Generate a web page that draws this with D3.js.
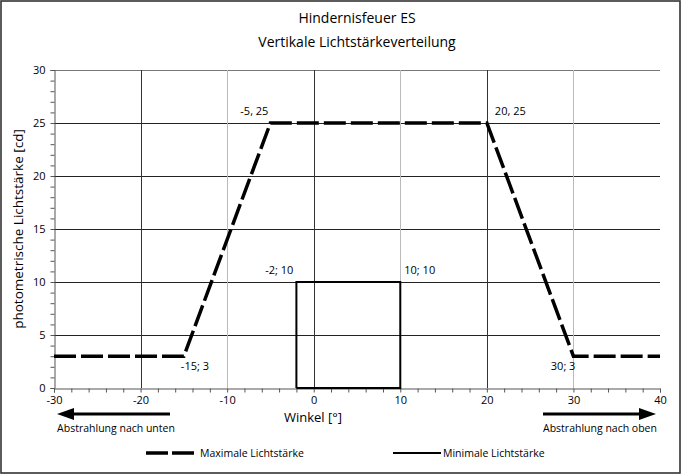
<!DOCTYPE html>
<html><head><meta charset="utf-8">
<script src="https://cdn.jsdelivr.net/npm/d3@7"></script>
<style>
body{margin:0;background:#fff;}
text{font-family:"Open Sans","Noto Sans",sans-serif;fill:#000;}
</style></head>
<body><svg id="c" width="681" height="476"></svg>
<script>
const maxX = [-30, -15, -5, 20, 30, 40];
const maxY = [3, 3, 25, 25, 3, 3];
const minX = [-2, -2, 10, 10, -2];
const minY = [0, 10, 10, 0, 0];
const xTicks = [-30, -20, -10, 0, 10, 20, 30, 40];
const yTicks = [0, 5, 10, 15, 20, 25, 30];
const darkGrid = [-20, 0, 20];
const lightGrid = [-10, 10, 30];
const annotations = [
  {x: -5, y: 25, t: "-5, 25", dx: -2, dy: -8, a: "end"},
  {x: 20, y: 25, t: "20, 25", dx: 8, dy: -8, a: "start"},
  {x: -2, y: 10, t: "-2; 10", dx: -3, dy: -8, a: "end"},
  {x: 10, y: 10, t: "10; 10", dx: 4, dy: -8, a: "start"},
  {x: -15, y: 3, t: "-15; 3", dx: -3, dy: 14, a: "start"},
  {x: 30, y: 3, t: "30; 3", dx: 2, dy: 14, a: "end"}
];

const svg = d3.select("#c");
const x = d3.scaleLinear().domain([-30, 40]).range([54, 660]);
const y = d3.scaleLinear().domain([0, 30]).range([388, 70]);

svg.append("rect").attr("x",1).attr("y",1).attr("width",679).attr("height",472)
  .attr("fill","#fff").attr("stroke","#333").attr("stroke-width",1.6);

// grid
svg.append("g").selectAll("line").data(yTicks.filter(d=>d>0)).join("line")
  .attr("x1",54).attr("x2",660).attr("y1",d=>y(d)+0.5).attr("y2",d=>y(d)+0.5)
  .attr("stroke",d=>d===30?"#777":"#222").attr("stroke-width",1);
svg.append("g").selectAll("line").data(lightGrid).join("line")
  .attr("x1",d=>Math.round(x(d))+0.5).attr("x2",d=>Math.round(x(d))+0.5).attr("y1",70).attr("y2",388)
  .attr("stroke","#bbb").attr("stroke-width",1);
svg.append("g").selectAll("line").data(darkGrid).join("line")
  .attr("x1",d=>Math.round(x(d))+0.5).attr("x2",d=>Math.round(x(d))+0.5).attr("y1",70).attr("y2",388)
  .attr("stroke","#333").attr("stroke-width",1);

// axes
const xAxis = d3.axisBottom(x).tickValues(d3.range(-30, 41, 2)).tickSize(4)
  .tickFormat(d => xTicks.includes(d) ? d : "");
const gx = svg.append("g").attr("transform","translate(0,388.5)").call(xAxis);
gx.select(".domain").attr("stroke","#555");
gx.selectAll(".tick line").attr("stroke","#555");
gx.selectAll(".tick text").attr("y",8).attr("dy","0.71em").style("font-size","11px").attr("fill","#222");

const yAxis = d3.axisLeft(y).tickValues(d3.range(0, 31, 1)).tickSize(4)
  .tickFormat(d => yTicks.includes(d) ? d : "");
const gy = svg.append("g").attr("transform","translate(54.5,0)").call(yAxis);
gy.select(".domain").attr("stroke","#555");
gy.selectAll(".tick line").attr("stroke","#555");
gy.selectAll(".tick text").attr("x",-9).style("font-size","11px").attr("fill","#222");

// series
const line = d3.line().x(d=>x(d[0])).y(d=>y(d[1]));
svg.append("path").datum(minX.map((v,i)=>[v,minY[i]])).attr("d",line)
  .attr("fill","none").attr("stroke","#000").attr("stroke-width",2);
svg.append("path").datum(maxX.map((v,i)=>[v,maxY[i]])).attr("d",line)
  .attr("fill","none").attr("stroke","#000").attr("stroke-width",3.5)
  .attr("stroke-dasharray","22,5");

// annotations
svg.append("g").selectAll("text").data(annotations).join("text")
  .attr("x",d=>x(d.x)+d.dx).attr("y",d=>y(d.y)+d.dy).attr("text-anchor",d=>d.a)
  .style("font-size","11px").text(d=>d.t);

// titles
svg.append("text").attr("x",357).attr("y",23).attr("text-anchor","middle").style("font-size","14px").text("Hindernisfeuer ES");
svg.append("text").attr("x",357).attr("y",47).attr("text-anchor","middle").style("font-size","14px").text("Vertikale Lichtstärkeverteilung");
svg.append("text").attr("transform","translate(23,229) rotate(-90)").attr("text-anchor","middle").style("font-size","13.5px").text("photometrische Lichtstärke [cd]");
svg.append("text").attr("x",313).attr("y",422).attr("text-anchor","middle").style("font-size","13px").text("Winkel [°]");

// arrows
function arrow(x0, x1, yy) {
  const dir = Math.sign(x1 - x0);
  svg.append("line").attr("x1",x0).attr("x2",x1 - dir*14).attr("y1",yy).attr("y2",yy)
    .attr("stroke","#000").attr("stroke-width",3);
  svg.append("path").attr("d",`M${x1},${yy}L${x1-dir*17},${yy-6}L${x1-dir*17},${yy+6}Z`).attr("fill","#000");
}
arrow(170, 57, 414);
arrow(543, 656, 414);
svg.append("text").attr("x",116).attr("y",432).attr("text-anchor","middle").style("font-size","10.5px").text("Abstrahlung nach unten");
svg.append("text").attr("x",600).attr("y",432).attr("text-anchor","middle").style("font-size","10.5px").text("Abstrahlung nach oben");

// legend
svg.append("line").attr("x1",146).attr("x2",194).attr("y1",453).attr("y2",453)
  .attr("stroke","#000").attr("stroke-width",3.5).attr("stroke-dasharray","22,4");
svg.append("text").attr("x",200).attr("y",457).style("font-size","10.5px").text("Maximale Lichtstärke");
svg.append("line").attr("x1",393).attr("x2",441).attr("y1",453).attr("y2",453)
  .attr("stroke","#000").attr("stroke-width",2);
svg.append("text").attr("x",443).attr("y",457).style("font-size","10.5px").text("Minimale Lichtstärke");
</script></body></html>
